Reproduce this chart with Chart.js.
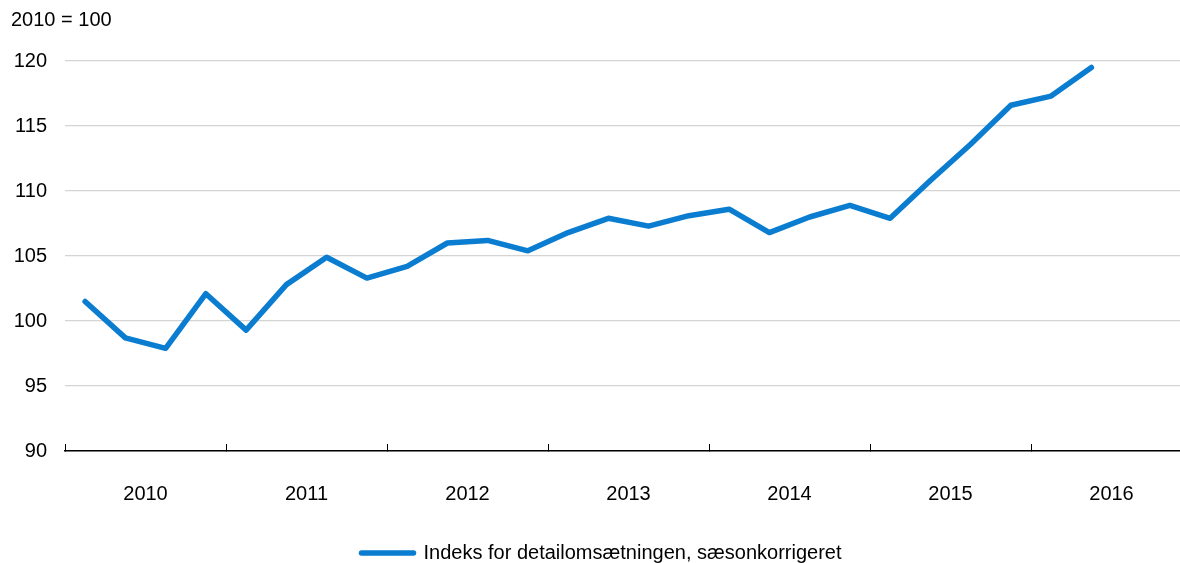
<!DOCTYPE html>
<html>
<head>
<meta charset="utf-8">
<script src="https://cdn.jsdelivr.net/npm/chart.js@4.4.0/dist/chart.umd.min.js"></script>
<style>
  html, body { margin: 0; padding: 0; background: #fff; overflow: hidden; }
  #wrap { width: 1204px; height: 563px; }
</style>
</head>
<body>
<div id="wrap"><canvas id="retailChart"></canvas></div>
<script>
// Quarters 2010K1 - 2016K4 (data ends 2016K2)
const quarters = [];
const years = ["2010", "2011", "2012", "2013", "2014", "2015", "2016"];
years.forEach(y => { for (let q = 1; q <= 4; q++) quarters.push(y + "K" + q); });

const retailIndex = [
    101.5, 98.7, 97.9, 102.1,
    99.3, 102.8, 104.9, 103.3,
    104.2, 106.0, 106.2, 105.4,
    106.8, 107.9, 107.3, 108.1,
    108.6, 106.8, 108.0, 108.9,
    107.9, 110.8, 113.6, 116.6,
    117.3, 119.5
];

const yTicks = [90, 95, 100, 105, 110, 115, 120];

const blue = "#0a7dd0";
const font = { family: "'Liberation Sans', Arial, sans-serif", size: 20 };

const ctx = document.getElementById('retailChart').getContext('2d');

const retailChart = new Chart(ctx, {
    type: 'line',
    data: {
        labels: quarters,
        datasets: [{
            label: "Indeks for detailomsætningen, sæsonkorrigeret",
            data: retailIndex,
            borderColor: blue,
            backgroundColor: blue,
            borderWidth: 5.5,
            borderCapStyle: 'round',
            borderJoinStyle: 'round',
            pointRadius: 0,
            tension: 0,
            fill: false
        }]
    },
    options: {
        responsive: true,
        maintainAspectRatio: false,
        animation: false,
        layout: { padding: { left: 11, right: 12, top: 0, bottom: -10 } },
        plugins: {
            title: {
                display: true,
                text: "2010 = 100",
                align: 'start',
                color: '#000',
                font: { ...font, weight: 'normal' },
                padding: { top: 8, bottom: 29 }
            },
            legend: {
                position: 'bottom',
                labels: {
                    color: '#000',
                    font: font,
                    boxWidth: 52,
                    boxHeight: 0.01,
                    padding: 0
                }
            },
            tooltip: { enabled: false }
        },
        scales: {
            x: {
                display: false,
                offset: true
            },
            x2: {
                type: 'category',
                labels: years,
                position: 'bottom',
                offset: true,
                afterFit: scale => { scale.height -= 1; },
                grid: {
                    offset: true,
                    drawOnChartArea: false,
                    color: '#000',
                    tickLength: -7,
                    lineWidth: 1
                },
                border: { display: true, color: '#000', width: 1.5 },
                ticks: { color: '#000', font: font, padding: 38, maxRotation: 0 }
            },
            y: {
                min: 90,
                max: 120,
                afterBuildTicks: scale => { scale.ticks = yTicks.map(v => ({ value: v })); },
                afterFit: scale => { scale.width = 54; },
                grid: { color: '#d4d4d4', lineWidth: 1.2, drawTicks: false },
                border: { display: false },
                ticks: { color: '#000', font: font, padding: 18 }
            }
        }
    }
});
</script>
</body>
</html>
